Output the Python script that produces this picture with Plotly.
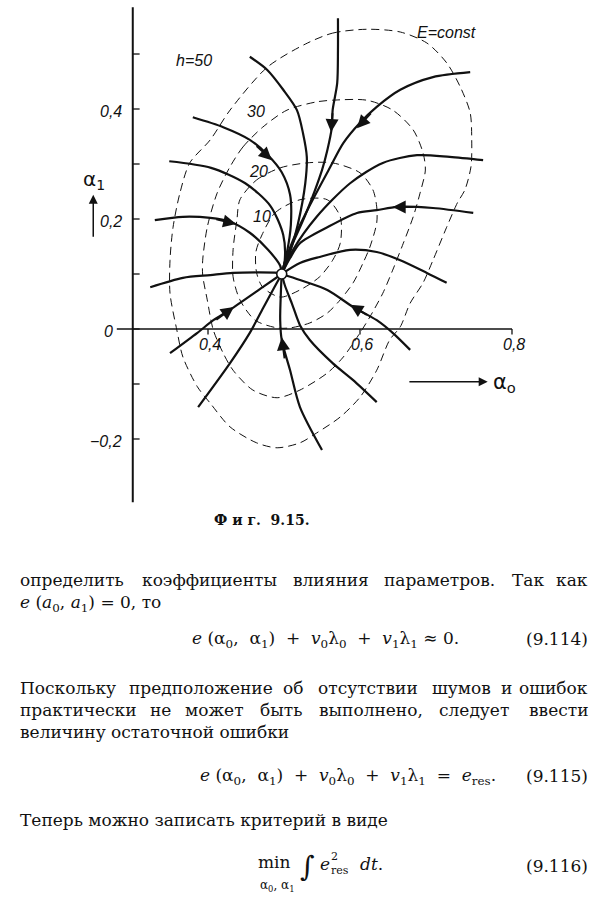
import plotly.graph_objects as go

FIG_W, FIG_H = 600, 910

# ---------------- axes / scales (α0 horizontal, α1 vertical) ----------------
X_VIEW = [0.1263, 0.9158]
Y_VIEW = [-0.3473, 0.5982]
Y_DOMAIN = [390 / 910, 1.0]
AXIS0_SPAN = [0.280, 0.800]      # α0 axis, drawn along α1 = 0
AXIS1_SPAN = [-0.315, 0.585]     # α1 axis, drawn along α0 = AXIS1_AT
AXIS1_AT = 0.301
Y_TICKS = [-0.2, -0.1, 0.0, 0.1, 0.2, 0.3, 0.4, 0.5]
X_TICKS = [0.4, 0.6, 0.8]
X_TICK_LABELS = ["0,4", "0,6", "0,8"]
Y_TICK_VALS = [0.4, 0.2, 0.0, -0.2]
Y_TICK_LABELS = ["0,4", "0,2", "0", "−0,2"]

# ---------------- equilibrium point ----------------
P_A0 = [0.497]
P_A1 = [0.100]

# ---------------- E = const contours (h = 10, 20, 30, 50) ----------------
C10_X = [0.471, 0.488, 0.521, 0.557, 0.574, 0.574, 0.564, 0.547, 0.521, 0.495, 0.472, 0.464, 0.463, 0.471]
C10_Y = [0.171, 0.211, 0.235, 0.235, 0.204, 0.156, 0.125, 0.095, 0.071, 0.058, 0.076, 0.102, 0.140, 0.171]

C20_X = [0.442, 0.464, 0.495, 0.530, 0.564, 0.600, 0.617, 0.622, 0.622, 0.613, 0.604, 0.591, 0.574,
         0.557, 0.534, 0.508, 0.491, 0.462, 0.442, 0.433, 0.433, 0.438, 0.442]
C20_Y = [0.235, 0.271, 0.293, 0.302, 0.302, 0.284, 0.253, 0.222, 0.193, 0.149, 0.120, 0.084, 0.053,
         0.029, 0.011, 0.002, 0.002, 0.016, 0.053, 0.095, 0.144, 0.198, 0.235]

C30_X = [0.429, 0.446, 0.472, 0.504, 0.543, 0.564, 0.609, 0.643, 0.670, 0.683, 0.686, 0.679, 0.670,
         0.657, 0.643, 0.630, 0.613, 0.600, 0.578, 0.557, 0.521, 0.491, 0.459, 0.433, 0.420, 0.407,
         0.399, 0.393, 0.393, 0.399, 0.412, 0.429]
C30_Y = [0.295, 0.331, 0.367, 0.398, 0.413, 0.416, 0.416, 0.398, 0.362, 0.320, 0.289, 0.247, 0.204,
         0.156, 0.107, 0.065, 0.022, -0.007, -0.051, -0.080, -0.111, -0.125, -0.111, -0.075, -0.044,
         -0.002, 0.053, 0.098, 0.125, 0.185, 0.247, 0.295]

C50_X = [0.528, 0.564, 0.609, 0.653, 0.688, 0.714, 0.732, 0.745, 0.747, 0.746, 0.738, 0.728, 0.714,
         0.696, 0.683, 0.666, 0.653, 0.639, 0.622, 0.600, 0.574, 0.543, 0.521, 0.491, 0.464, 0.429,
         0.403, 0.386, 0.367, 0.359, 0.350, 0.350, 0.354, 0.363, 0.376, 0.403, 0.429, 0.478, 0.528]
C50_Y = [0.518, 0.538, 0.545, 0.540, 0.520, 0.484, 0.440, 0.393, 0.344, 0.295, 0.253, 0.229, 0.185,
         0.125, 0.084, 0.047, 0.004, -0.020, -0.075, -0.124, -0.160, -0.189, -0.207, -0.216, -0.207,
         -0.178, -0.135, -0.105, -0.051, -0.002, 0.065, 0.125, 0.185, 0.247, 0.302, 0.344, 0.398,
         0.476, 0.518]

CONTOUR_LEVELS = ["10", "20", "30", "50"]

# ---------------- trajectories (solid) ----------------
T_TOP_X = [0.571, 0.571, 0.570, 0.564, 0.563, 0.557, 0.550, 0.528, 0.508, 0.497]
T_TOP_Y = [0.565, 0.507, 0.447, 0.398, 0.367, 0.325, 0.289, 0.207, 0.144, 0.100]

T_A_X = [0.455, 0.478, 0.499, 0.517, 0.525, 0.530, 0.528, 0.518, 0.507, 0.497]
T_A_Y = [0.495, 0.471, 0.435, 0.398, 0.356, 0.313, 0.265, 0.189, 0.135, 0.100]

T_B_X = [0.380, 0.420, 0.455, 0.479, 0.497, 0.508, 0.509, 0.504, 0.497]
T_B_Y = [0.385, 0.367, 0.344, 0.316, 0.285, 0.244, 0.189, 0.140, 0.100]

T_D_X = [0.349, 0.404, 0.449, 0.482, 0.499, 0.501, 0.497]
T_D_Y = [0.305, 0.293, 0.265, 0.224, 0.171, 0.125, 0.100]

T_E_X = [0.330, 0.367, 0.403, 0.429, 0.455, 0.479, 0.495, 0.497]
T_E_Y = [0.198, 0.204, 0.202, 0.195, 0.175, 0.144, 0.115, 0.100]

T_F_X = [0.324, 0.367, 0.403, 0.433, 0.491, 0.497]
T_F_Y = [0.076, 0.093, 0.098, 0.102, 0.102, 0.100]

T_G_X = [0.350, 0.386, 0.407, 0.429, 0.472, 0.497]
T_G_Y = [-0.044, -0.007, 0.016, 0.035, 0.076, 0.100]

T_H_X = [0.387, 0.429, 0.455, 0.474, 0.487, 0.497]
T_H_Y = [-0.142, -0.062, -0.007, 0.042, 0.075, 0.100]

T_I_X = [0.550, 0.521, 0.508, 0.497, 0.495, 0.496, 0.497]
T_I_Y = [-0.220, -0.142, -0.075, -0.020, 0.016, 0.071, 0.100]

T_J_X = [0.622, 0.591, 0.564, 0.534, 0.521, 0.511, 0.501, 0.497]
T_J_Y = [-0.133, -0.093, -0.062, -0.020, 0.007, 0.044, 0.080, 0.100]

T_K_X = [0.666, 0.643, 0.622, 0.591, 0.557, 0.521, 0.497]
T_K_Y = [-0.038, -0.007, 0.016, 0.040, 0.071, 0.089, 0.100]

T_L_X = [0.497, 0.521, 0.547, 0.587, 0.622, 0.653, 0.688, 0.714]
T_L_Y = [0.100, 0.120, 0.131, 0.144, 0.140, 0.125, 0.102, 0.084]

T_M_X = [0.497, 0.508, 0.521, 0.557, 0.596, 0.622, 0.649, 0.696, 0.749]
T_M_Y = [0.100, 0.129, 0.156, 0.185, 0.211, 0.216, 0.222, 0.220, 0.211]

T_N_X = [0.497, 0.512, 0.543, 0.587, 0.630, 0.675, 0.718, 0.762]
T_N_Y = [0.100, 0.144, 0.204, 0.265, 0.302, 0.316, 0.313, 0.307]

T_C_X = [0.745, 0.696, 0.653, 0.622, 0.600, 0.578, 0.561, 0.534, 0.512, 0.500, 0.497]
T_C_Y = [0.467, 0.458, 0.435, 0.404, 0.375, 0.338, 0.295, 0.225, 0.162, 0.116, 0.100]

# arrowheads on trajectories: tip (x, y) and a point behind it (x, y)
ARROW_TIP_X = [0.562, 0.596, 0.484, 0.437, 0.643, 0.587, 0.434, 0.497]
ARROW_TIP_Y = [0.358, 0.365, 0.307, 0.191, 0.222, 0.044, 0.040, -0.015]
ARROW_TAIL_X = [0.564, 0.616, 0.462, 0.409, 0.672, 0.611, 0.409, 0.501]
ARROW_TAIL_Y = [0.395, 0.395, 0.335, 0.200, 0.222, 0.024, 0.015, -0.056]

fig = go.Figure()

INK = "#111111"

# contours
for cx, cy in [(C10_X, C10_Y), (C20_X, C20_Y), (C30_X, C30_Y), (C50_X, C50_Y)]:
    fig.add_trace(go.Scatter(x=cx, y=cy, mode="lines",
                             line=dict(color=INK, width=1, dash="8px,5px", shape="spline", smoothing=0.8),
                             hoverinfo="skip", showlegend=False))

# trajectories
for tx, ty in [(T_TOP_X, T_TOP_Y), (T_A_X, T_A_Y), (T_B_X, T_B_Y), (T_D_X, T_D_Y), (T_E_X, T_E_Y),
               (T_F_X, T_F_Y), (T_G_X, T_G_Y), (T_H_X, T_H_Y), (T_I_X, T_I_Y), (T_J_X, T_J_Y),
               (T_K_X, T_K_Y), (T_L_X, T_L_Y), (T_M_X, T_M_Y), (T_N_X, T_N_Y), (T_C_X, T_C_Y)]:
    fig.add_trace(go.Scatter(x=tx, y=ty, mode="lines",
                             line=dict(color=INK, width=2.2, shape="spline", smoothing=0.8),
                             hoverinfo="skip", showlegend=False))

# axes lines
fig.add_trace(go.Scatter(x=AXIS0_SPAN, y=[0, 0], mode="lines", line=dict(color=INK, width=1.4),
                         hoverinfo="skip", showlegend=False))
fig.add_trace(go.Scatter(x=[AXIS1_AT, AXIS1_AT], y=AXIS1_SPAN, mode="lines", line=dict(color=INK, width=2),
                         hoverinfo="skip", showlegend=False))

# ticks
ytx, yty = [], []
for v in Y_TICKS:
    ytx += [AXIS1_AT, AXIS1_AT + 0.009, None]
    yty += [v, v, None]
xtx, xty = [], []
for v in X_TICKS:
    xtx += [v, v, None]
    xty += [0, -0.010, None]
fig.add_trace(go.Scatter(x=ytx + xtx, y=yty + xty, mode="lines", line=dict(color=INK, width=1.3),
                         hoverinfo="skip", showlegend=False))

# equilibrium point
fig.add_trace(go.Scatter(x=P_A0, y=P_A1, mode="markers",
                         marker=dict(size=10, color="white", line=dict(color=INK, width=1.6)),
                         hoverinfo="skip", showlegend=False))

ann = []
LBL = dict(family="Liberation Sans, Arial, sans-serif", size=16, color=INK)

for v, t in zip(X_TICKS, X_TICK_LABELS):
    ann.append(dict(x=v + 0.003, y=-0.029, xref="x", yref="y", text="<i>" + t + "</i>", showarrow=False,
                    xanchor="center", yanchor="middle", font=LBL))
for v, t in zip(Y_TICK_VALS, Y_TICK_LABELS):
    xr = 0.278 if t == "0" else 0.289
    ann.append(dict(x=xr, y=v - 0.004, xref="x", yref="y", text="<i>" + t + "</i>", showarrow=False,
                    xanchor="right", yanchor="middle", font=LBL))

# contour labels
LEVEL_POS_X = [0.471, 0.466, 0.463, 0.382]
LEVEL_POS_Y = [0.205, 0.287, 0.396, 0.489]
for lx, ly, lv in zip(LEVEL_POS_X, LEVEL_POS_Y, CONTOUR_LEVELS):
    txt = "<i>h=" + lv + "</i>" if lv == "50" else "<i>" + lv + "</i>"
    ann.append(dict(x=lx, y=ly, xref="x", yref="y", text=txt, showarrow=False,
                    xanchor="center", yanchor="middle", font=dict(LBL, size=16)))
ann.append(dict(x=0.714, y=0.540, xref="x", yref="y", text="<i>E=const</i>", showarrow=False,
                xanchor="center", yanchor="middle", font=dict(LBL, size=16)))

# trajectory arrowheads
for tx, ty, sx, sy in zip(ARROW_TIP_X, ARROW_TIP_Y, ARROW_TAIL_X, ARROW_TAIL_Y):
    ann.append(dict(x=tx, y=ty, ax=sx, ay=sy, xref="x", yref="y", axref="x", ayref="y", text="",
                    showarrow=True, arrowhead=2, arrowsize=1.3, arrowwidth=2, arrowcolor=INK, standoff=0))

# axis name arrows and labels
ann.append(dict(x=0.249, y=0.244, ax=0.249, ay=0.165, xref="x", yref="y", axref="x", ayref="y", text="",
                showarrow=True, arrowhead=2, arrowsize=1.2, arrowwidth=1.5, arrowcolor=INK, standoff=0))
ann.append(dict(x=0.250, y=0.271, xref="x", yref="y", text="α<sub>1</sub>", showarrow=False,
                xanchor="center", yanchor="middle", font=dict(family="DejaVu Sans", size=20, color=INK)))
ann.append(dict(x=0.768, y=-0.096, ax=0.663, ay=-0.096, xref="x", yref="y", axref="x", ayref="y", text="",
                showarrow=True, arrowhead=2, arrowsize=1.2, arrowwidth=1.5, arrowcolor=INK, standoff=0))
ann.append(dict(x=0.773, y=-0.098, xref="x", yref="y", text="α<sub>o</sub>", showarrow=False,
                xanchor="left", yanchor="middle", font=dict(family="DejaVu Sans", size=21, color=INK)))

# ---------------- caption and page text ----------------
SERIF = "DejaVu Serif, Liberation Serif, serif"


def P(px, py):
    return px / FIG_W, 1 - py / FIG_H


def put(px, py, text, anchor="left", size=17, bold=False, family=SERIF):
    x, y = P(px, py)
    f = dict(family=family, size=size, color=INK)
    if bold:
        f["weight"] = "bold"
    ann.append(dict(x=x, y=y, xref="paper", yref="paper", text=text, showarrow=False,
                    xanchor=anchor, yanchor="middle", font=f))


WIDE = set("шщжмюыфШЩЖМЮЫФП")
NARROW = set(".,:;")


def word_w(w):
    s = 0.0
    for ch in w:
        if ch in WIDE:
            s += 14.5
        elif ch in NARROW:
            s += 5.4
        elif ch.isupper():
            s += 12.5
        else:
            s += 10.9
    return s


def justify(py, line, x0=18, x1=590):
    words = line.split(" ")
    n = len(words)
    widths = [word_w(w) for w in words]
    gap = ((x1 - x0) - sum(widths)) / (n - 1)
    cum = 0.0
    for i, w in enumerate(words):
        left = x0 + cum + gap * i
        if i == 0:
            put(x0, py, w, "left")
        elif i == n - 1:
            put(x1, py, w, "right")
        else:
            put(left + widths[i] / 2, py, w, "center")
        cum += widths[i]


NB = "\u00a0"
CAPTION = "Ф и г.  9.15."
LINE_1 = "определить коэффициенты влияния параметров. Так как"
LINE_2 = "<i>e</i> (<i>a</i><sub>0</sub>, <i>a</i><sub>1</sub>) = 0, то"
EQ_114 = ("<i>e</i> (α<sub>0</sub>," + NB + " α<sub>1</sub>)" + NB + " +" + NB + " <i>v</i><sub>0</sub>λ<sub>0</sub>"
          + NB + " +" + NB + " <i>v</i><sub>1</sub>λ<sub>1</sub> ≈ 0.")
EQ_115 = ("<i>e</i> (α<sub>0</sub>," + NB + " α<sub>1</sub>)" + NB + " +" + NB + " <i>v</i><sub>0</sub>λ<sub>0</sub>"
          + NB + " +" + NB + " <i>v</i><sub>1</sub>λ<sub>1</sub>" + NB + " =" + NB + " <i>e</i><sub>res</sub>.")
LINE_4 = "Поскольку предположение об отсутствии шумов и ошибок"
LINE_5 = "практически не может быть выполнено, следует ввести"
LINE_6 = "величину остаточной ошибки"
LINE_8 = "Теперь можно записать критерий в виде"

put(262, 520, CAPTION, "center", size=14, bold=True)
justify(580, LINE_1)
put(18, 603, LINE_2)
put(190, 639, EQ_114)
put(590, 639, "(9.114)", "right")
justify(688, LINE_4)
justify(710, LINE_5)
put(18, 732, LINE_6)
put(198, 776, EQ_115)
put(590, 776, "(9.115)", "right")
put(18, 820, LINE_8)
put(274, 862, "min", "center")
put(277, 886, "α<sub>0</sub>, α<sub>1</sub>", "center", size=12)
put(307, 866, "∫", "center", size=28)
put(318, 864, "<i>e</i>", "left")
put(329, 856, "2", "left", size=11)
put(329, 870, "res", "left", size=11)
put(358, 864, "<i>dt</i>.", "left")
put(590, 866, "(9.116)", "right")

fig.update_layout(
    width=FIG_W, height=FIG_H,
    margin=dict(l=0, r=0, t=0, b=0),
    paper_bgcolor="white", plot_bgcolor="white",
    xaxis=dict(range=X_VIEW, visible=False, fixedrange=True),
    yaxis=dict(range=Y_VIEW, domain=Y_DOMAIN, visible=False, fixedrange=True),
    annotations=ann,
    showlegend=False,
)

fig.write_html("out.html",
               config={"displayModeBar": False, "staticPlot": True},
               post_script="document.body.style.margin='0';document.body.style.padding='0';"
                           "document.body.style.overflow='hidden';")
